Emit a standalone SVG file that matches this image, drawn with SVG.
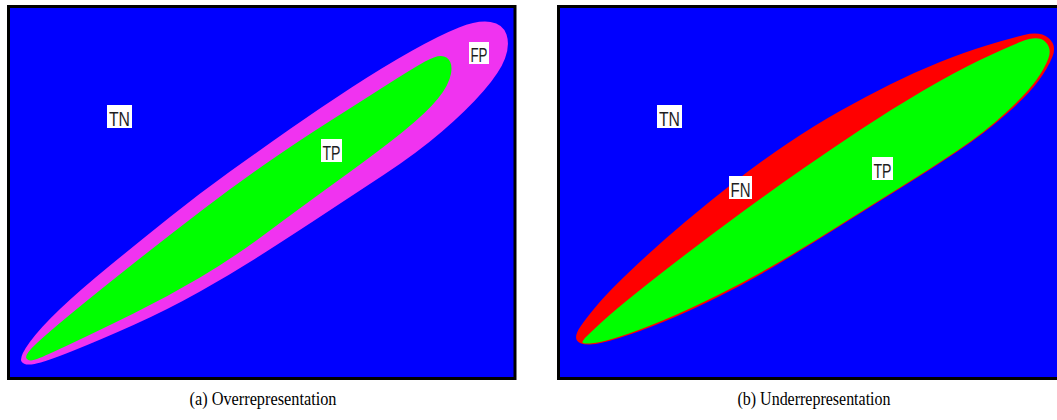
<svg xmlns="http://www.w3.org/2000/svg" width="1057" height="420" viewBox="0 0 1057 420">
<style>
.bg{fill:#0000ff}
.frame{fill:none;stroke:#000;stroke-width:3}
.mag{fill:#f033f0}
.grn{fill:#00ff00}
.red{fill:#ff0000}
.box{fill:#fff}
.lbl{font-family:"Liberation Sans",Arial,sans-serif;font-size:21px;fill:#1e1e1e}
.cap{font-family:"Liberation Serif","Times New Roman",serif;font-size:18.5px;fill:#000;text-anchor:middle}
</style>
<defs>
<clipPath id="clipB"><rect x="560" y="8" width="510" height="369"/></clipPath>
</defs>
<g id="panel-a">
<rect class="bg" x="8.5" y="6.5" width="506.5" height="372"/>
<path id="a-fp" class="mag" d="M21.5,361.5 Q19,357 29.5,342.5 Q40,328 60,309 Q80,290 110,265.5 Q140,241 170,217 Q200,193 230,171.5 Q260,150 290,129 Q320,108 351.5,87.5 Q383,67 411.5,51 Q440,35 459,27.5 Q478,20 490.5,22 Q503,24 506.5,34.5 Q510,45 505,58.5 Q500,72 483.5,91 Q467,110 442,131.5 Q417,153 383.5,175 Q350,197 325,213.5 Q300,230 266.5,251.5 Q233,273 200,291.5 Q167,310 133.5,325 Q100,340 72.5,351 Q45,362 34.5,364 Q24,366 21.5,361.5 Z"/>
<path id="a-tp" class="grn" d="M26.5,358.5 Q24,355 37,343 Q50,331 75,310.5 Q100,290 133.5,263.5 Q167,237 201,211 Q235,185 267.5,162.5 Q300,140 330,121 Q360,102 385,86 Q410,70 425,61.5 Q440,53 446.5,57.5 Q453,62 451,73.5 Q449,85 438,98.5 Q427,112 405,130 Q383,148 341.5,178 Q300,208 266.5,233 Q233,258 200,277.5 Q167,297 133.5,313.5 Q100,330 72.5,343 Q45,356 37,359 Q29,362 26.5,358.5 Z"/>
<rect class="frame" x="8.5" y="6.5" width="506.5" height="372"/>
<g id="a-label-tn"><rect class="box" x="107" y="105" width="25" height="23"/><text class="lbl" x="109" y="126" textLength="21" lengthAdjust="spacingAndGlyphs">TN</text></g>
<g id="a-label-tp"><rect class="box" x="321" y="139" width="21" height="23"/><text class="lbl" x="322.5" y="160" textLength="18" lengthAdjust="spacingAndGlyphs">TP</text></g>
<g id="a-label-fp"><rect class="box" x="469" y="42" width="20" height="22"/><text class="lbl" x="470.5" y="62" textLength="17" lengthAdjust="spacingAndGlyphs">FP</text></g>
<text id="cap-a" class="cap" x="263" y="405" textLength="147" lengthAdjust="spacingAndGlyphs">(a) Overrepresentation</text>
</g>
<g id="panel-b">
<rect class="bg" x="558.5" y="6.5" width="510" height="372"/>
<g clip-path="url(#clipB)">
<path id="b-fn" class="red" d="M577,340.5 Q574,336 580.5,326.5 Q587,317 598.5,303.5 Q610,290 635,266.5 Q660,243 685,222 Q710,201 735,181.5 Q760,162 787.5,143.5 Q815,125 840,111 Q865,97 890,84.5 Q915,72 940,62 Q965,52 986.5,45.5 Q1008,39 1024,35 Q1040,31 1048.5,38 Q1057,45 1052.5,56.5 Q1048,68 1038,81.5 Q1028,95 1006.5,114 Q985,133 957.5,151.5 Q930,170 900,188.5 Q870,207 840,226 Q810,245 780,263 Q750,281 720,296 Q690,311 665,321.25 Q640,331.5 620,337.75 Q600,344 590,344.5 Q580,345 577,340.5 Z"/>
<path id="b-tp" class="grn" d="M583,343 Q581,342 586.5,336.5 Q592,331 603.5,320.5 Q615,310 637.5,292 Q660,274 687.5,253 Q715,232 745,210 Q775,188 802.5,169 Q830,150 860,130 Q890,110 922.5,91 Q955,72 980,60 Q1005,48 1021.5,41.5 Q1038,35 1045,41.5 Q1052,48 1048.5,58 Q1045,68 1036,80.5 Q1027,93 1006,112.5 Q985,132 957.5,150.5 Q930,169 900,187.5 Q870,206 840,225 Q810,244 780,261.5 Q750,279 720,294 Q690,309 665,319.5 Q640,330 621.5,336 Q603,342 594,343 Q585,344 583,343 Z"/>
</g>
<rect class="frame" x="558.5" y="6.5" width="510" height="372"/>
<g id="b-label-tn"><rect class="box" x="657" y="105" width="25" height="23"/><text class="lbl" x="659" y="126" textLength="21" lengthAdjust="spacingAndGlyphs">TN</text></g>
<g id="b-label-fn"><rect class="box" x="729" y="176" width="23" height="23"/><text class="lbl" x="730.5" y="197" textLength="20" lengthAdjust="spacingAndGlyphs">FN</text></g>
<g id="b-label-tp"><rect class="box" x="872" y="157" width="21" height="23"/><text class="lbl" x="873.5" y="178" textLength="18" lengthAdjust="spacingAndGlyphs">TP</text></g>
<text id="cap-b" class="cap" x="814" y="405" textLength="153" lengthAdjust="spacingAndGlyphs">(b) Underrepresentation</text>
</g>
</svg>
